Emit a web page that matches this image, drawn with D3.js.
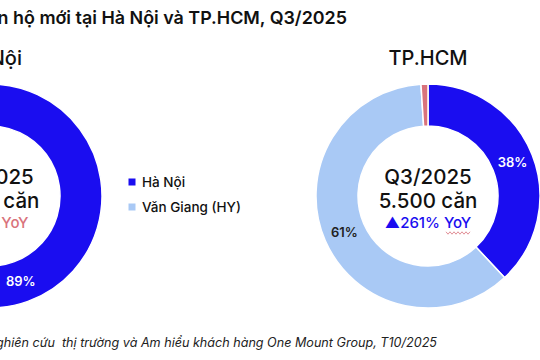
<!DOCTYPE html>
<html><head><meta charset="utf-8">
<script src="https://cdn.jsdelivr.net/npm/d3@7"></script>
<style>
html,body{margin:0;padding:0;background:#fff;overflow:hidden}
svg{display:block;font-family:Inter,"Noto Sans",sans-serif}
</style></head><body>
<svg id="c" width="540" height="360"></svg>
<script>
const title = "Nguồn cung căn hộ mới tại Hà Nội và TP.HCM, Q3/2025";
const source = "Nguồn: Phòng Nghiên cứu  thị trường và Am hiểu khách hàng One Mount Group, T10/2025";
const legendLabels = ["Hà Nội", "Văn Giang (HY)"];
const hnCategories = ["Hà Nội", "Văn Giang (HY)"];
const hnValues = [89, 11];
const hcmCategories = ["TP.HCM", "Vùng lân cận", "Khác"];
const hcmValues = [38, 61, 1];
const hnCenter = ["Q3/2025", "6.300 căn", "▼31% YoY"];
const hcmCenter = ["Q3/2025", "5.500 căn", "▲261% YoY"];
const colors = ["#1a0df0", "#a9c9f5", "#d9737c"];

const svg = d3.select("#c");
svg.append("text").attr("x", 347).attr("y", 24).attr("text-anchor", "end")
  .attr("font-size", 17.9).attr("font-weight", 600).attr("fill", "#111").text(title);
svg.append("text").attr("x", 437).attr("y", 347).attr("text-anchor", "end")
  .style("white-space", "pre")
  .attr("font-size", 12.6).attr("font-style", "italic").attr("fill", "#222").text(source);

const pie = d3.pie().sort(null).value(d => d);
const arc = d3.arc().innerRadius(70).outerRadius(112);
const color = d3.scaleOrdinal().domain([0,1,2]).range(colors);

function donut(cx, cy, name, values, center, yoyColor, labelColors) {
  const g = svg.append("g").attr("transform", `translate(${cx},${cy})`);
  const arcs = pie(values);
  g.selectAll("path").data(arcs).join("path")
    .attr("d", arc).attr("fill", (d, i) => color(i))
    .attr("stroke", "#fff").attr("stroke-width", 1.5);
  g.selectAll("text.pct").data(arcs.filter(d => d.data >= 5)).join("text")
    .attr("class", "pct")
    .attr("transform", d => `translate(${arc.centroid(d)})`)
    .attr("text-anchor", "middle").attr("dy", "0.36em")
    .attr("font-size", 13).attr("font-weight", 600)
    .attr("fill", (d, i) => labelColors[d.index])
    .text(d => d.data + "%");
  svg.append("text").attr("x", cx).attr("y", 65).attr("text-anchor", "middle")
    .attr("font-size", 20).attr("font-weight", 500).attr("fill", "#111").text(name);
  g.append("text").attr("y", -12).attr("text-anchor", "middle").attr("font-size", 20.5)
    .attr("font-weight", 500).attr("fill", "#111").text(center[0]);
  g.append("text").attr("y", 12).attr("text-anchor", "middle").attr("font-size", 20.5)
    .attr("font-weight", 500).attr("fill", "#111").text(center[1]);
  g.append("text").attr("y", 32).attr("text-anchor", "middle").attr("font-size", 15)
    .attr("font-weight", 500).attr("fill", yoyColor).text(center[2]);
  return g;
}

donut(-10, 196, "Hà Nội", hnValues, hnCenter, "#d9737c", ["#fff", "#222"]);
const gh = donut(428, 196, "TP.HCM", hcmValues, hcmCenter, "#1a0df0", ["#fff", "#222", "#222"]);
const wave = d3.range(0, 26, 2).map((x, i) => [x, i % 2 ? 1.2 : -1.2]);
gh.append("path").attr("transform", "translate(18,37)")
  .attr("d", d3.line()(wave)).attr("fill", "none").attr("stroke", "#d9737c").attr("stroke-width", 0.8);

const leg = svg.append("g").attr("transform", "translate(132,182)");
legendLabels.forEach((t, i) => {
  const r = leg.append("g").attr("transform", `translate(0,${i * 25})`);
  r.append("rect").attr("x", -3.5).attr("y", -3.5).attr("width", 7).attr("height", 7).attr("fill", colors[i]);
  r.append("text").attr("x", 10).attr("dy", "0.36em").attr("font-size", 13.5)
    .attr("font-weight", 500).attr("fill", "#111").text(t);
});
</script>
</body></html>
